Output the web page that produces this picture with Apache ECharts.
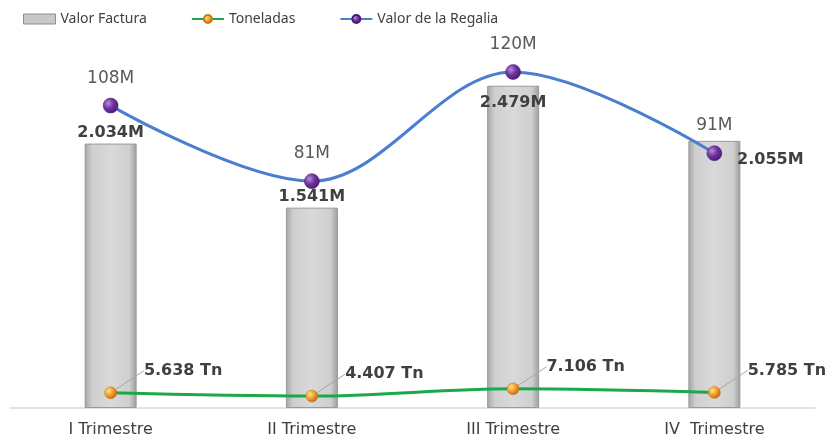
<!DOCTYPE html>
<html><head><meta charset="utf-8">
<script src="https://cdn.jsdelivr.net/npm/echarts@6/dist/echarts.min.js"></script>
<style>html,body{margin:0;padding:0;background:#fff}#c{width:830px;height:443px}</style>
</head><body><div id="c"></div>
<script>
const categories = ['I Trimestre', 'II Trimestre', 'III Trimestre', 'IV  Trimestre'];
const valorFactura = [2.034, 1.541, 2.479, 2.055];      // millions
const toneladas = [5.638, 4.407, 7.106, 5.785];
const valorRegalia = [108, 81, 120, 91];                // millions
const fmtNum = v => v.toFixed(3);

const chart = echarts.init(document.getElementById('c'));
const font = 'Noto Sans';
const wide = 'DejaVu Sans';
const barGrad = new echarts.graphic.LinearGradient(0, 0, 1, 0, [
  {offset: 0, color: '#a4a4a4'}, {offset: 0.14, color: '#cfcfcf'},
  {offset: 0.5, color: '#d9d9d9'}, {offset: 0.86, color: '#cfcfcf'}, {offset: 1, color: '#9c9c9c'}]);
const purple = new echarts.graphic.RadialGradient(0.35, 0.35, 0.7, [
  {offset: 0, color: '#b38fd6'}, {offset: 0.5, color: '#7030a0'}, {offset: 1, color: '#4a1a70'}]);
const orange = new echarts.graphic.RadialGradient(0.35, 0.35, 0.7, [
  {offset: 0, color: '#ffe38a'}, {offset: 0.5, color: '#f0a030'}, {offset: 1, color: '#c06010'}]);

const barLabelPos = [
  {position: 'top', offset: [0, 0]},
  {position: 'top', offset: [0, 0]},
  {position: 'insideTop', offset: [0, 6]},
  {position: 'top', offset: [56, 30]}
];

chart.setOption({
  animation: false,
  textStyle: {fontFamily: font},
  legend: {
    top: 7, left: 18, itemGap: 44, itemWidth: 32, itemHeight: 10,
    textStyle: {fontSize: 14, color: '#404040', fontFamily: font},
    data: [
      {name: 'Valor Factura', icon: 'rect', itemStyle: {color: '#c8c8c8', borderColor: '#8c8c8c', borderWidth: 1}},
      {name: 'Toneladas'},
      {name: 'Valor de la Regalia'}
    ]
  },
  grid: {left: 10, right: 15, top: 44, bottom: 35},
  xAxis: {
    type: 'category', data: categories,
    axisLine: {lineStyle: {color: '#d9d9d9', width: 1.5}},
    axisTick: {show: false},
    axisLabel: {fontSize: 16, color: '#404040', margin: 14, fontFamily: wide}
  },
  yAxis: [
    {type: 'value', min: 0, max: 2.8, show: false, splitLine: {show: false}},
    {type: 'value', min: 0, max: 130, show: false, splitLine: {show: false}},
    {type: 'value', min: 0, max: 135, show: false, splitLine: {show: false}}
  ],
  series: [
    {
      name: 'Valor Factura', type: 'bar', yAxisIndex: 0, barWidth: 52,
      itemStyle: {color: barGrad, borderColor: '#9a9a9a', borderWidth: 1},
      data: valorFactura.map((v, i) => ({
        value: v,
        label: {show: true, position: barLabelPos[i].position, offset: barLabelPos[i].offset,
          formatter: p => fmtNum(p.value) + 'M', fontSize: 16, fontWeight: 'bold', color: '#404040',
          fontFamily: wide, distance: 3}
      })),
      z: 1
    },
    {
      name: 'Toneladas', type: 'line', yAxisIndex: 2, smooth: 0.35,
      symbol: 'circle', symbolSize: 12,
      lineStyle: {color: '#1aa84a', width: 3},
      itemStyle: {color: orange, borderColor: '#c97a1a', borderWidth: 0.5},
      label: {show: true, position: 'right', formatter: p => fmtNum(p.value) + ' Tn',
        fontSize: 16, fontWeight: 'bold', color: '#404040', fontFamily: wide},
      labelLayout: {dx: 22, dy: -22},
      labelLine: {show: true, lineStyle: {color: '#a6a6a6', width: 1}},
      data: toneladas, z: 3
    },
    {
      name: 'Valor de la Regalia', type: 'line', yAxisIndex: 1, smooth: 0.35,
      symbol: 'circle', symbolSize: 15,
      lineStyle: {color: '#4a7fcf', width: 3},
      itemStyle: {color: purple, borderColor: '#4a1a70', borderWidth: 0.5},
      label: {show: true, position: 'top', distance: 11, formatter: p => p.value + 'M',
        fontSize: 17, color: '#595959', fontFamily: wide},
      data: valorRegalia, z: 4
    }
  ]
});
</script></body></html>
